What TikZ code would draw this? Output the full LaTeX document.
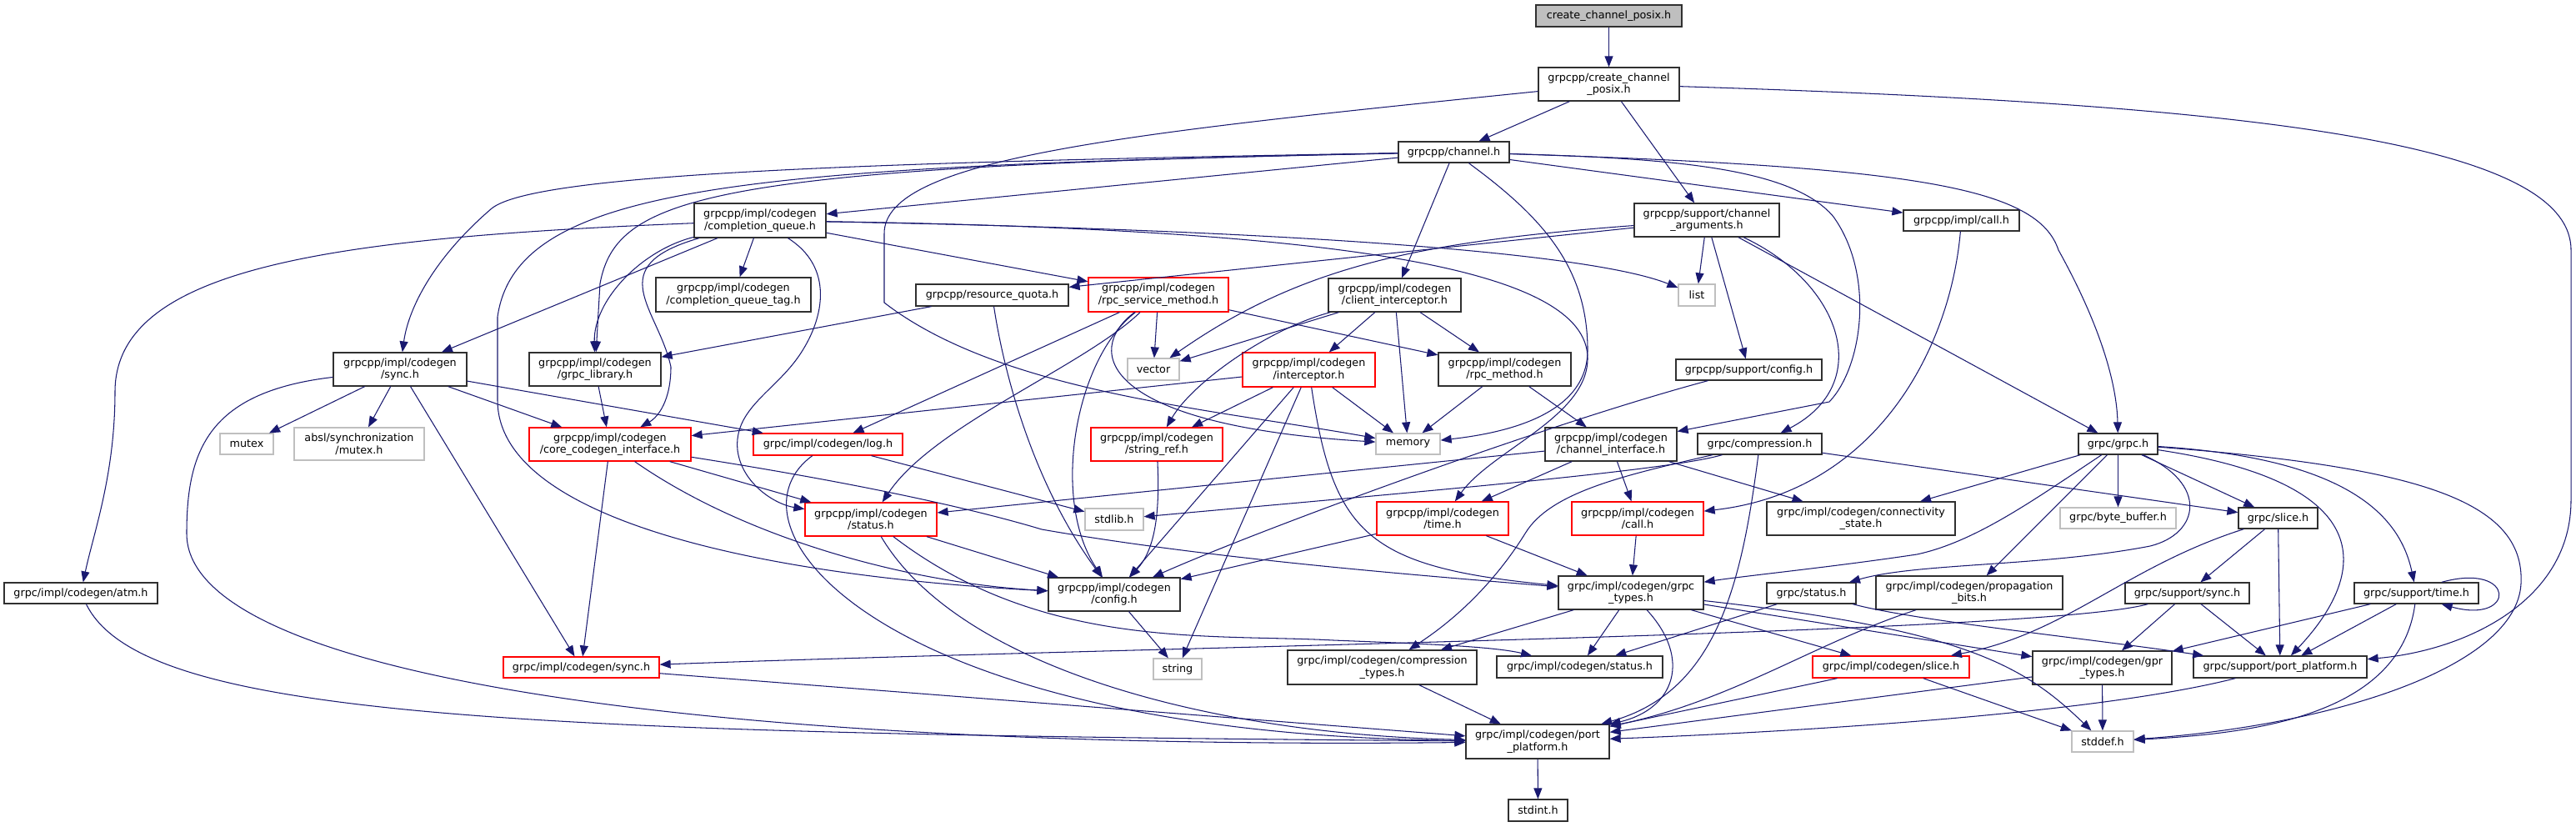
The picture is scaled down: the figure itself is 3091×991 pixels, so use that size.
\documentclass[tikz,border=0pt]{standalone}
\usepackage{fontspec}
\setmainfont{DejaVu Sans}
\usetikzlibrary{arrows.meta}
\definecolor{edgec}{HTML}{191970}
\definecolor{greyc}{HTML}{BFBFBF}
\definecolor{redc}{HTML}{FF0000}
\definecolor{boxc}{HTML}{303030}
\newcommand\nodefont{\fontsize{12.75pt}{14.5pt}\selectfont}
\newcommand\bx[6]{\node[#1, minimum width=#4pt, minimum height=#5pt] (#2) at (#3) {#6};}
\tikzset{
 nbox/.style={rectangle, line width=1.25pt, inner sep=0pt, align=center, font=\nodefont, text=black},
 nb/.style={nbox, draw=boxc},
 nr/.style={nbox, draw=redc},
 ng/.style={nbox, draw=greyc},
 ntop/.style={nbox, draw=boxc, fill=greyc},
 edg/.style={draw=edgec, line width=1.05pt, -{Triangle[length=13pt,width=10pt]}},
}
\begin{document}
\begin{tikzpicture}[x=1pt,y=-1pt]
\fill[white] (0,0) rectangle (3091,991);
\useasboundingbox (0,0) rectangle (3091,991);
% ---------- nodes ----------
\bx{ntop}{top}{1930.5,19}{175}{26}{create\_channel\_posix.h}
\bx{nb}{ccp}{1930.5,101}{169}{40}{grpcpp/create\_channel\\\_posix.h}
\bx{nb}{chan}{1744.5,182.5}{133}{25}{grpcpp/channel.h}
\bx{nb}{cq}{912,264.5}{158}{41}{grpcpp/impl/codegen\\/completion\_queue.h}
\bx{nb}{chargs}{2048,264}{174}{40}{grpcpp/support/channel\\\_arguments.h}
\bx{nb}{icall}{2353.5,264.5}{139}{25}{grpcpp/impl/call.h}
\bx{nb}{cqtag}{880,353.5}{186}{41}{grpcpp/impl/codegen\\/completion\_queue\_tag.h}
\bx{nb}{rq}{1190.5,354}{183}{26}{grpcpp/resource\_quota.h}
\bx{nr}{rsm}{1390,353.5}{168}{41}{grpcpp/impl/codegen\\/rpc\_service\_method.h}
\bx{nb}{ci}{1673.5,354}{159}{40}{grpcpp/impl/codegen\\/client\_interceptor.h}
\bx{ng}{list}{2036,354}{44}{26}{list}
\bx{nb}{gsync}{480,443}{160}{40}{grpcpp/impl/codegen\\/sync.h}
\bx{nb}{glib}{714,443}{158}{40}{grpcpp/impl/codegen\\/grpc\_library.h}
\bx{ng}{vector}{1384,443}{62}{26}{vector}
\bx{nr}{icpt}{1570.5,443.5}{159}{41}{grpcpp/impl/codegen\\/interceptor.h}
\bx{nb}{rpcm}{1805.5,443}{159}{40}{grpcpp/impl/codegen\\/rpc\_method.h}
\bx{nb}{sconf}{2098.5,443.5}{175}{25}{grpcpp/support/config.h}
\bx{ng}{mutex}{296,532.5}{64}{25}{mutex}
\bx{ng}{absl}{431,532.5}{156}{39}{absl/synchronization\\/mutex.h}
\bx{nr}{cci}{732,533}{194}{40}{grpcpp/impl/codegen\\/core\_codegen\_interface.h}
\bx{nr}{log}{993.5,533}{179}{26}{grpc/impl/codegen/log.h}
\bx{nr}{sref}{1388,533}{158}{40}{grpcpp/impl/codegen\\/string\_ref.h}
\bx{ng}{memory}{1689.5,532.5}{77}{25}{memory}
\bx{nb}{chif}{1933,533}{158}{40}{grpcpp/impl/codegen\\/channel\_interface.h}
\bx{nb}{compr}{2111.5,532.5}{149}{25}{grpc/compression.h}
\bx{nb}{grpch}{2541.5,532.5}{95}{25}{grpc/grpc.h}
\bx{nr}{gstat}{1045,623}{158}{40}{grpcpp/impl/codegen\\/status.h}
\bx{ng}{stdlib}{1337,623}{70}{26}{stdlib.h}
\bx{nr}{gtime}{1731,622}{158}{40}{grpcpp/impl/codegen\\/time.h}
\bx{nr}{gcall}{1965,622}{158}{40}{grpcpp/impl/codegen\\/call.h}
\bx{nb}{conn}{2233,622}{226}{40}{grpc/impl/codegen/connectivity\\\_state.h}
\bx{ng}{bbuf}{2541.5,621.5}{139}{25}{grpc/byte\_buffer.h}
\bx{nb}{slice}{2733.5,621.5}{95}{25}{grpc/slice.h}
\bx{nb}{atm}{97,711.5}{184}{25}{grpc/impl/codegen/atm.h}
\bx{nb}{conf}{1337,713}{158}{40}{grpcpp/impl/codegen\\/config.h}
\bx{nb}{gtypes}{1957,711}{174}{40}{grpc/impl/codegen/grpc\\\_types.h}
\bx{nb}{stat}{2173.5,711.5}{107}{25}{grpc/status.h}
\bx{nb}{prop}{2363,711}{224}{40}{grpc/impl/codegen/propagation\\\_bits.h}
\bx{nb}{ssync}{2624.5,711.5}{149}{25}{grpc/support/sync.h}
\bx{nb}{stime}{2899.5,711.5}{149}{25}{grpc/support/time.h}
\bx{nr}{csync}{697.5,800.5}{187}{25}{grpc/impl/codegen/sync.h}
\bx{ng}{string}{1413,802.5}{58}{25}{string}
\bx{nb}{ctypes}{1658.5,800.5}{227}{41}{grpc/impl/codegen/compression\\\_types.h}
\bx{nb}{cstat}{1895.5,800}{199}{26}{grpc/impl/codegen/status.h}
\bx{nr}{cslice}{2269,800}{188}{26}{grpc/impl/codegen/slice.h}
\bx{nb}{gpr}{2522.5,801}{167}{40}{grpc/impl/codegen/gpr\\\_types.h}
\bx{nb}{spp}{2736,800}{208}{26}{grpc/support/port\_platform.h}
\bx{nb}{pp}{1845,889.5}{172}{41}{grpc/impl/codegen/port\\\_platform.h}
\bx{ng}{stddef}{2523,889.5}{74}{25}{stddef.h}
\bx{nb}{stdint}{1845.5,972}{71}{26}{stdint.h}
% ---------- edges ----------
\draw[edg] (top) -- (ccp);
\draw[edg] (ccp) .. controls (1350,160) and (1061,190) .. (1061,280) -- (1061,363) .. controls (1200,470) and (1450,490) .. (memory);
\draw[edg] (ccp) -- (chan);
\draw[edg] (ccp) -- (chargs);
\draw[edg] (ccp) .. controls (2700,125) and (3085,170) .. (3085,300) -- (3085,600) .. controls (3085,720) and (2960,780) .. (spp);
% channel.h
\draw[edg] (chan) -- (cq);
\draw[edg] (chan) .. controls (1000,195) and (640,210) .. (590,250) .. controls (520,310) and (490,370) .. (gsync);
\draw[edg] (chan) .. controls (850,200) and (740,235) .. (720,340) -- (glib);
\draw[edg] (chan) -- (ci);
\draw[edg] (chan) .. controls (900,200) and (620,220) .. (597,380) -- (597,480) .. controls (597,620) and (900,690) .. (conf);
\draw[edg] (chan) .. controls (1850,260) and (1905,320) .. (1905,420) .. controls (1905,500) and (1800,520) .. (memory);
\draw[edg] (chan) .. controls (2000,190) and (2150,200) .. (2200,260) .. controls (2250,330) and (2235,440) .. (2195,482) -- (chif);
\draw[edg] (chan) -- (icall);
\draw[edg] (chan) .. controls (2300,200) and (2445,225) .. (2470,300) .. controls (2520,390) and (2540,460) .. (grpch);
% completion_queue.h
\draw[edg] (cq) .. controls (400,285) and (138,320) .. (138,470) .. controls (138,570) and (112,640) .. (atm);
\draw[edg] (cq) -- (gsync);
\draw[edg] (cq) .. controls (770,300) and (712,360) .. (glib);
\draw[edg] (cq) .. controls (720,320) and (790,370) .. (805,440) .. controls (805,480) and (790,500) .. (cci);
\draw[edg] (cq) -- (cqtag);
\draw[edg] (cq) -- (rsm);
\draw[edg] (cq) .. controls (1500,275) and (1900,300) .. (list);
\draw[edg] (cq) .. controls (1600,275) and (1905,320) .. (1905,430) .. controls (1905,500) and (1790,540) .. (gtime);
\draw[edg] (cq) .. controls (1000,320) and (990,380) .. (960,425) .. controls (930,470) and (880,490) .. (885,540) .. controls (890,580) and (930,605) .. (gstat);
% channel_arguments.h
\draw[edg] (chargs) -- (list);
\draw[edg] (chargs) .. controls (1700,290) and (1560,320) .. (vector);
\draw[edg] (chargs) -- (rq);
\draw[edg] (chargs) -- (sconf);
\draw[edg] (chargs) .. controls (2210,340) and (2250,460) .. (compr);
\draw[edg] (chargs) -- (grpch);
% impl/call.h
\draw[edg] (icall) .. controls (2340,420) and (2250,590) .. (gcall);
% resource_quota.h
\draw[edg] (rq) -- (glib);
\draw[edg] (rq) .. controls (1205,450) and (1240,580) .. (conf);
% rpc_service_method.h
\draw[edg] (rsm) -- (vector);
\draw[edg] (rsm) -- (log);
\draw[edg] (rsm) .. controls (1300,440) and (1120,510) .. (gstat);
\draw[edg] (rsm) .. controls (1290,430) and (1260,600) .. (conf);
\draw[edg] (rsm) -- (rpcm);
\draw[edg] (rsm) .. controls (1300,420) and (1320,510) .. (memory);
% client_interceptor.h
\draw[edg] (ci) -- (memory);
\draw[edg] (ci) -- (rpcm);
\draw[edg] (ci) -- (icpt);
\draw[edg] (ci) -- (vector);
\draw[edg] (ci) .. controls (1520,395) and (1430,460) .. (sref);
% interceptor.h
\draw[edg] (icpt) -- (sref);
\draw[edg] (icpt) -- (memory);
\draw[edg] (icpt) -- (cci);
\draw[edg] (icpt) -- (conf);
\draw[edg] (icpt) .. controls (1600,640) and (1640,680) .. (gtypes);
\draw[edg] (icpt) -- (string);
% rpc_method.h
\draw[edg] (rpcm) -- (memory);
\draw[edg] (rpcm) -- (chif);
% grpcpp sync.h
\draw[edg] (gsync) -- (mutex);
\draw[edg] (gsync) -- (absl);
\draw[edg] (gsync) -- (log);
\draw[edg] (gsync) -- (cci);
\draw[edg] (gsync) -- (csync);
\draw[edg] (gsync) .. controls (250,470) and (224,540) .. (224,640) .. controls (224,820) and (900,900) .. (pp);
% grpc_library.h
\draw[edg] (glib) -- (cci);
% core_codegen_interface.h
\draw[edg] (cci) -- (gstat);
\draw[edg] (cci) .. controls (900,650) and (1100,700) .. (conf);
\draw[edg] (cci) -- (csync);
\draw[edg] (cci) .. controls (1000,575) and (1150,605) .. (1250,635) .. controls (1450,670) and (1700,690) .. (gtypes);
% log.h
\draw[edg] (log) -- (stdlib);
\draw[edg] (log) .. controls (860,630) and (1050,880) .. (pp);
% grpcpp status.h
\draw[edg] (gstat) -- (conf);
\draw[edg] (gstat) .. controls (1250,780) and (1450,760) .. (1600,768) .. controls (1700,772) and (1790,775) .. (cstat);
\draw[edg] (gstat) .. controls (1150,800) and (1450,880) .. (pp);
% time.h, call.h
\draw[edg] (gtime) -- (conf);
\draw[edg] (gtime) -- (gtypes);
\draw[edg] (gcall) -- (gtypes);
% channel_interface.h
\draw[edg] (chif) -- (gstat);
\draw[edg] (chif) -- (gtime);
\draw[edg] (chif) -- (gcall);
\draw[edg] (chif) -- (conn);
% support/config.h
\draw[edg] (sconf) .. controls (1850,510) and (1500,640) .. (conf);
% compression.h
\draw[edg] (compr) .. controls (2000,565) and (1700,590) .. (stdlib);
\draw[edg] (compr) .. controls (1950,570) and (1860,590) .. (1830,640) .. controls (1780,720) and (1720,760) .. (ctypes);
\draw[edg] (compr) -- (slice);
\draw[edg] (compr) .. controls (2090,700) and (2060,830) .. (pp);
% grpc.h
\draw[edg] (grpch) -- (conn);
\draw[edg] (grpch) .. controls (2440,600) and (2370,650) .. (2300,665) .. controls (2200,680) and (2100,690) .. (gtypes);
\draw[edg] (grpch) -- (prop);
\draw[edg] (grpch) -- (bbuf);
\draw[edg] (grpch) -- (slice);
\draw[edg] (grpch) .. controls (2650,580) and (2640,640) .. (2580,655) .. controls (2450,680) and (2300,675) .. (stat);
\draw[edg] (grpch) .. controls (2860,580) and (2840,690) .. (spp);
\draw[edg] (grpch) .. controls (2820,550) and (2880,620) .. (stime);
\draw[edg] (grpch) .. controls (2900,560) and (3030,600) .. (3025,700) .. controls (3020,800) and (2800,870) .. (stddef);
% grpc/slice.h
\draw[edg] (slice) .. controls (2550,680) and (2480,760) .. (cslice);
\draw[edg] (slice) -- (ssync);
\draw[edg] (slice) -- (spp);
% grpc/status.h
\draw[edg] (stat) -- (cstat);
\draw[edg] (stat) .. controls (2300,745) and (2500,765) .. (spp);
% propagation_bits.h
\draw[edg] (prop) .. controls (2180,770) and (2080,840) .. (pp);
% support/sync.h
\draw[edg] (ssync) -- (gpr);
\draw[edg] (ssync) -- (spp);
\draw[edg] (ssync) .. controls (2450,760) and (1400,775) .. (csync);
% support/time.h
\draw[edg] (stime) -- (gpr);
\draw[edg] (stime) -- (spp);
\draw[edg] (stime) .. controls (2880,860) and (2700,880) .. (stddef);
\draw[edg] ([xshift=-45pt]stime.north east) .. controls +(90,-25) and +(90,25) .. ([xshift=-45pt]stime.south east);
% codegen slice.h
\draw[edg] (cslice) -- (pp);
\draw[edg] (cslice) -- (stddef);
% grpc_types.h
\draw[edg] (gtypes) -- (ctypes);
\draw[edg] (gtypes) -- (cstat);
\draw[edg] (gtypes) .. controls (2030,790) and (2010,850) .. (pp);
\draw[edg] (gtypes) -- (cslice);
\draw[edg] (gtypes) -- (gpr);
\draw[edg] (gtypes) .. controls (2360,755) and (2430,800) .. (stddef);
% gpr_types.h
\draw[edg] (gpr) -- (stddef);
\draw[edg] (gpr) -- (pp);
% support/port_platform.h
\draw[edg] (spp) .. controls (2500,860) and (2100,880) .. (pp);
% others
\draw[edg] (csync) -- (pp);
\draw[edg] (ctypes) -- (pp);
\draw[edg] (conf) -- (string);
\draw[edg] (sref) .. controls (1392,620) and (1385,660) .. (conf);
\draw[edg] (atm) .. controls (170,860) and (600,880) .. (pp);
\draw[edg] (pp) -- (stdint);
\end{tikzpicture}
\end{document}
